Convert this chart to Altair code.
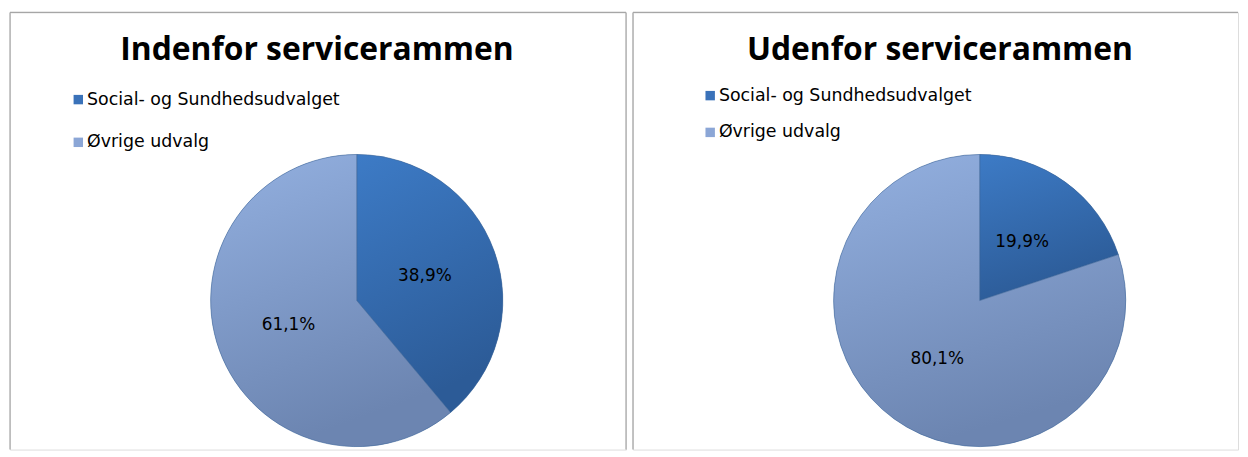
import altair as alt
import pandas as pd

# ---- data -------------------------------------------------------------
categories = ["Social- og Sundhedsudvalget", "Øvrige udvalg"]
indenfor_values = [38.9, 61.1]
udenfor_values = [19.9, 80.1]
panel_titles = ["Indenfor servicerammen", "Udenfor servicerammen"]

# ---- style ------------------------------------------------------------
solid_colors = ["#3a72b9", "#8ba6d6"]
dark_grad = alt.Gradient(
    gradient="linear", x1=0, y1=0, x2=0.3, y2=1,
    stops=[alt.GradientStop(color="#3d7bc6", offset=0),
           alt.GradientStop(color="#2c5b97", offset=1)],
)
light_grad = alt.Gradient(
    gradient="linear", x1=0, y1=0, x2=0.3, y2=1,
    stops=[alt.GradientStop(color="#93b0e0", offset=0),
           alt.GradientStop(color="#6c85b1", offset=1)],
)
LEFT_W, RIGHT_W, PANEL_H = 620, 609, 440
CX, CY, R = 349, 290, 147
LABEL_FONT = "DejaVu Sans"
BORDER = "#a6a6a6"


def frame_layers(width, right_edge):
    one = pd.DataFrame({"f": [0]})
    rules = [
        alt.Chart(one).mark_rule(color=BORDER, strokeWidth=1.2).encode(
            x=alt.value(0), y=alt.value(0), y2=alt.value(PANEL_H)),
        alt.Chart(one).mark_rule(color=BORDER, strokeWidth=1.2).encode(
            x=alt.value(0), x2=alt.value(width), y=alt.value(0)),
    ]
    if right_edge:
        rules.append(alt.Chart(one).mark_rule(color=BORDER, strokeWidth=1.2).encode(
            x=alt.value(width), y=alt.value(0), y2=alt.value(PANEL_H)))
    return rules


def panel(values, title, width, right_edge, legend_x, legend_y, row_pad):
    df = pd.DataFrame({
        "cat": categories,
        "value": values,
        "idx": list(range(len(categories))),
    })
    base = alt.Chart(df).encode(
        theta=alt.Theta("value:Q", stack=True),
        order=alt.Order("idx:Q"),
        detail="cat:N",
    )
    legend_arc = base.mark_arc(radius=R, x=CX, y=CY).encode(
        color=alt.Color(
            "cat:N",
            scale=alt.Scale(domain=categories, range=solid_colors),
            legend=alt.Legend(
                title=None, orient="none", legendX=legend_x, legendY=legend_y,
                direction="vertical", symbolType="square", symbolSize=90,
                symbolStrokeWidth=0, labelFont=LABEL_FONT, labelFontSize=17.5,
                labelColor="#000000", labelOffset=0, rowPadding=row_pad,
                labelLimit=400,
            ),
        )
    )
    grad_arc = base.mark_arc(
        radius=R, x=CX, y=CY, stroke="#3d6596", strokeWidth=0.8, strokeOpacity=0.7
    ).encode(
        color=alt.condition(alt.datum.idx == 0, alt.value(dark_grad), alt.value(light_grad))
    )
    labels = base.mark_text(
        radius=73, x=CX, y=CY, font=LABEL_FONT, fontSize=17, color="#000000"
    ).transform_calculate(
        label="replace(format(datum.value, '.1f'), '.', ',') + '%'"
    ).encode(text="label:N")
    title_df = pd.DataFrame({"t": [title]})
    title_txt = alt.Chart(title_df).mark_text(
        x=309, y=48, baseline="alphabetic", align="center",
        font="Open Sans", fontWeight="bold", fontSize=32, color="#000000"
    ).encode(text="t:N")
    layers = frame_layers(width, right_edge) + [legend_arc, grad_arc, labels, title_txt]
    return alt.layer(*layers).properties(width=width, height=PANEL_H)


left = panel(indenfor_values, panel_titles[0], LEFT_W, True, 60, 79, 24)
right = panel(udenfor_values, panel_titles[1], RIGHT_W, False, 69, 75, 18)

chart = alt.hconcat(left, right, spacing=3).resolve_scale(
    color="independent"
).resolve_legend(color="independent").properties(
    padding={"left": 0, "top": 1, "right": 0, "bottom": 0}
).configure_view(
    strokeWidth=0
).configure(background="white")

chart.save("out.html", embed_options={"renderer": "svg", "actions": False})
